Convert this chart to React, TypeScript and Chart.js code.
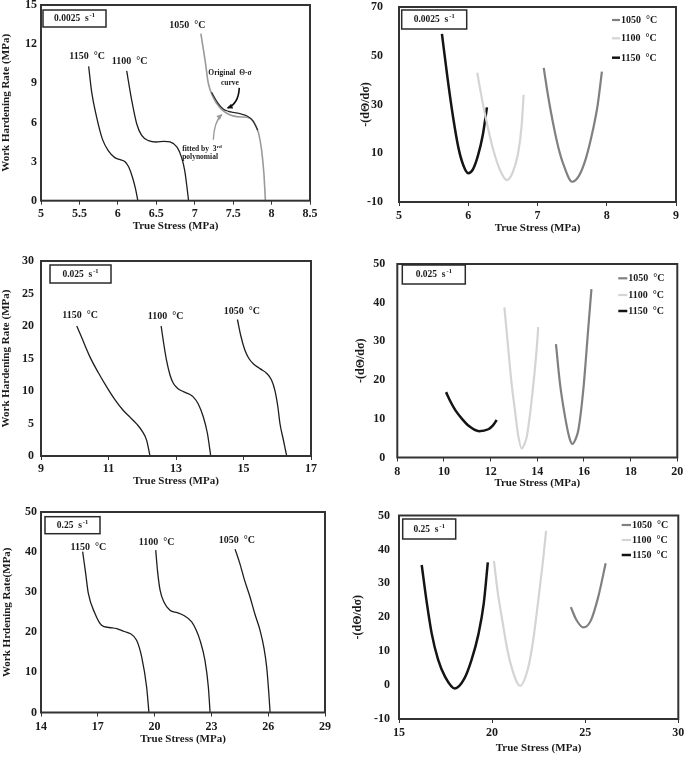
import React, { useEffect, useRef } from 'react';
import { Chart, registerables } from 'chart.js';

Chart.register(...registerables);

const SERIF = "'Liberation Serif', 'Times New Roman', Times, serif";

type Pt = [number, number];

// ---------- shared text ----------
const TEMPS = ['1050  °C', '1100  °C', '1150  °C'];
const RATES = ['0.0025', '0.025', '0.25'];
const X_TITLE = 'True Stress (MPa)';
const Y_TITLE_WHR = 'Work Hardening Rate (MPa)';
const Y_TITLE_WHR_B = 'Work Hrdening Rate(MPa)';
const Y_TITLE_DER = '-(dΘ/dσ)';

// ---------- panel A : 0.0025 s-1, work hardening rate ----------
const A_X_TICKS = [5, 5.5, 6, 6.5, 7, 7.5, 8, 8.5];
const A_Y_TICKS = [0, 3, 6, 9, 12, 15];
const A_1150: Pt[] = [[5.62, 10.3], [5.66, 8.3], [5.72, 6.5], [5.8, 4.7], [5.88, 3.8], [5.96, 3.3], [6.03, 3.15], [6.09, 3.0], [6.14, 2.6], [6.19, 1.8], [6.23, 0.9], [6.26, 0]];
const A_1100: Pt[] = [[6.115, 9.95], [6.18, 7.7], [6.245, 5.9], [6.31, 5.0], [6.4, 4.6], [6.5, 4.5], [6.6, 4.55], [6.68, 4.5], [6.77, 4.1], [6.83, 3.3], [6.87, 2.3], [6.9, 1.0], [6.92, 0]];
const A_1050_FIT: Pt[] = [[7.08, 12.8], [7.134, 10.8], [7.177, 9.0], [7.242, 7.9], [7.33, 7.1], [7.416, 6.7], [7.5, 6.5], [7.6, 6.42], [7.68, 6.4], [7.76, 6.1], [7.83, 5.2], [7.87, 3.9], [7.9, 2.1], [7.92, 0]];
const A_1050_ORIG: Pt[] = [[7.22, 8.3], [7.3, 7.5], [7.37, 7.03], [7.44, 6.85], [7.5, 6.77], [7.6, 6.65], [7.68, 6.5], [7.76, 6.1], [7.82, 5.4]];

// ---------- panel B : 0.0025 s-1, -(dΘ/dσ) ----------
const B_X_TICKS = [5, 6, 7, 8, 9];
const B_Y_TICKS = [-10, 10, 30, 50, 70];
const B_1050: Pt[] = [[7.09, 45], [7.15, 34], [7.22, 23], [7.3, 12.5], [7.38, 5], [7.5, -1.7], [7.6, 0.8], [7.7, 8], [7.8, 19.5], [7.87, 30], [7.93, 43.5]];
const B_1100: Pt[] = [[6.13, 43], [6.2, 32], [6.28, 21], [6.37, 10.5], [6.46, 3], [6.555, -1], [6.64, 2], [6.72, 10], [6.77, 21], [6.8, 34]];
const B_1150: Pt[] = [[5.62, 59], [5.7, 41], [5.78, 25], [5.86, 12], [5.93, 5], [6.0, 1.8], [6.07, 3.5], [6.14, 9], [6.21, 17.5], [6.27, 28.8]];

// ---------- panel C : 0.025 s-1, work hardening rate ----------
const C_X_TICKS = [9, 11, 13, 15, 17];
const C_Y_TICKS = [0, 5, 10, 15, 20, 25, 30];
const C_1150: Pt[] = [[10.06, 20], [10.2, 18.3], [10.45, 15.25], [10.7, 12.8], [10.95, 10.6], [11.2, 8.6], [11.44, 7.0], [11.65, 5.9], [11.84, 4.9], [12.0, 3.8], [12.13, 2.4], [12.23, 0]];
const C_1100: Pt[] = [[12.56, 20], [12.63, 17.5], [12.72, 14.7], [12.82, 12.5], [12.92, 11.2], [13.05, 10.4], [13.22, 9.9], [13.4, 9.5], [13.51, 9.1], [13.66, 8], [13.81, 6], [13.93, 3.5], [14.03, 0]];
const C_1050: Pt[] = [[14.82, 21], [14.92, 18.5], [15.04, 16.3], [15.16, 15], [15.29, 14.2], [15.5, 13.4], [15.69, 12.7], [15.83, 11.7], [15.93, 10.1], [16.02, 7.5], [16.08, 5], [16.18, 2.5], [16.28, 0]];

// ---------- panel D : 0.025 s-1, -(dΘ/dσ) ----------
const D_X_TICKS = [8, 10, 12, 14, 16, 18, 20];
const D_Y_TICKS = [0, 10, 20, 30, 40, 50];
const D_1050: Pt[] = [[14.8, 29.3], [14.97, 19.2], [15.19, 10.5], [15.38, 5], [15.5, 3.5], [15.62, 4.5], [15.76, 7.1], [15.97, 17.4], [16.19, 33.8], [16.32, 43.5]];
const D_1100: Pt[] = [[12.59, 38.8], [12.76, 27.8], [12.9, 19], [13.04, 12.3], [13.19, 5.4], [13.33, 2.3], [13.45, 3.5], [13.55, 5.4], [13.76, 14.9], [13.97, 27.8], [14.04, 33.7]];
const D_1150: Pt[] = [[10.09, 16.9], [10.3, 14.2], [10.5, 12.1], [10.8, 9.8], [11.1, 8.0], [11.5, 6.8], [11.9, 7.3], [12.1, 8.3], [12.26, 9.7]];

// ---------- panel E : 0.25 s-1, work hardening rate ----------
const E_X_TICKS = [14, 17, 20, 23, 26, 29];
const E_Y_TICKS = [0, 10, 20, 30, 40, 50];
const E_1150: Pt[] = [[16.2, 40.1], [16.35, 35], [16.5, 29.7], [16.85, 24.7], [17.2, 21.75], [17.6, 21.2], [18.0, 20.9], [18.4, 20.2], [18.7, 19.7], [19.05, 18], [19.32, 13.8], [19.58, 6.3], [19.7, 0]];
const E_1100: Pt[] = [[20.06, 40.5], [20.15, 35.5], [20.29, 30.5], [20.5, 27.5], [20.81, 25.5], [21.2, 24.9], [21.52, 24.25], [21.96, 22.6], [22.2, 20.5], [22.4, 18], [22.66, 13], [22.84, 6.3], [22.93, 0]];
const E_1050: Pt[] = [[24.25, 40.75], [24.5, 37.2], [24.75, 33], [25.04, 28.8], [25.3, 24.5], [25.57, 20.5], [25.78, 16], [25.92, 11.3], [26.03, 5], [26.1, 0]];

// ---------- panel F : 0.25 s-1, -(dΘ/dσ) ----------
const F_X_TICKS = [15, 20, 25, 30];
const F_Y_TICKS = [-10, 0, 10, 20, 30, 40, 50];
const F_1050: Pt[] = [[24.23, 23], [24.5, 19.5], [24.9, 17], [25.3, 19], [25.7, 26], [26.1, 35.9]];
const F_1100: Pt[] = [[20.1, 36.6], [20.3, 27.5], [20.52, 20], [20.8, 11], [21.05, 5.2], [21.5, -0.2], [21.94, 5.2], [22.2, 13], [22.48, 25], [22.7, 35], [22.9, 45.5]];
const F_1150: Pt[] = [[16.22, 35.4], [16.5, 24], [16.76, 15.1], [17.1, 7.5], [17.47, 2.5], [18.0, -1], [18.5, 1.8], [18.9, 7.5], [19.27, 15.1], [19.55, 24], [19.77, 36.2]];

// ---------- styles ----------
const DARK = '#1e1e1e';
const C1050 = '#808080';
const C1100 = '#d4d4d4';
const C1150 = '#141414';

type Series = { label: string; data: Pt[]; color: string; width: number };
type Label = { text: string; x: number; y: number };
type Spec = {
  canvas: [number, number, number, number];
  plot: [number, number, number, number];
  xTicks: number[];
  yTicks: number[];
  yTitle: string;
  yTitleX: number;
  yTitleSize: number;
  yTickPad: number;
  xTickGap: number;
  xTitleGap: number;
  series: Series[];
  rate: string;
  rateBox: [number, number, number, number];
  labels?: Label[];
  legend?: { x0: number; x1: number; rows: number[] };
  notes?: boolean;
};

const SPECS: Spec[] = [
  {
    canvas: [0, -20, 345, 270], plot: [41, 5, 310, 200.7],
    xTicks: A_X_TICKS, yTicks: A_Y_TICKS, yTitle: Y_TITLE_WHR, yTitleX: 6.5, yTitleSize: 11, yTickPad: 4, xTickGap: 13.5, xTitleGap: 25.5,
    series: [
      { label: '1150', data: A_1150, color: DARK, width: 1.3 },
      { label: '1100', data: A_1100, color: DARK, width: 1.3 },
      { label: '1050 original', data: A_1050_ORIG, color: '#2a2a2a', width: 1.2 },
      { label: '1050 fitted', data: A_1050_FIT, color: '#9a9a9a', width: 1.6 },
    ],
    rate: RATES[0], rateBox: [2, 5, 63, 17],
    labels: [
      { text: TEMPS[2], x: 5.6, y: 11.05 },
      { text: TEMPS[1], x: 6.154, y: 10.67 },
      { text: TEMPS[0], x: 6.904, y: 13.44 },
    ],
    notes: true,
  },
  {
    canvas: [345, -20, 360, 270], plot: [399, 7, 676, 202],
    xTicks: B_X_TICKS, yTicks: B_Y_TICKS, yTitle: Y_TITLE_DER, yTitleX: 366, yTitleSize: 12, yTickPad: 16, xTickGap: 13.5, xTitleGap: 26,
    series: [
      { label: TEMPS[0], data: B_1050, color: C1050, width: 2.2 },
      { label: TEMPS[1], data: B_1100, color: C1100, width: 2.2 },
      { label: TEMPS[2], data: B_1150, color: C1150, width: 2.5 },
    ],
    rate: RATES[0], rateBox: [2.7, 3, 65, 19],
    legend: { x0: -64, x1: -56, rows: [13, 31.3, 50.7] },
  },
  {
    canvas: [0, 230, 345, 270], plot: [41, 261, 311, 456],
    xTicks: C_X_TICKS, yTicks: C_Y_TICKS, yTitle: Y_TITLE_WHR, yTitleX: 6.5, yTitleSize: 11, yTickPad: 7, xTickGap: 13, xTitleGap: 25,
    series: [
      { label: '1150', data: C_1150, color: DARK, width: 1.3 },
      { label: '1100', data: C_1100, color: DARK, width: 1.3 },
      { label: '1050', data: C_1050, color: DARK, width: 1.3 },
    ],
    rate: RATES[1], rateBox: [9, 4, 61, 18],
    labels: [
      { text: TEMPS[2], x: 10.16, y: 21.6 },
      { text: TEMPS[1], x: 12.69, y: 21.4 },
      { text: TEMPS[0], x: 14.95, y: 22.2 },
    ],
  },
  {
    canvas: [345, 230, 360, 270], plot: [397.3, 264, 677.3, 457.5],
    xTicks: D_X_TICKS, yTicks: D_Y_TICKS, yTitle: Y_TITLE_DER, yTitleX: 361, yTitleSize: 12, yTickPad: 12, xTickGap: 14, xTitleGap: 25.5,
    series: [
      { label: TEMPS[0], data: D_1050, color: C1050, width: 2.2 },
      { label: TEMPS[1], data: D_1100, color: C1100, width: 2.2 },
      { label: TEMPS[2], data: D_1150, color: C1150, width: 2.5 },
    ],
    rate: RATES[1], rateBox: [5, 1, 63, 19],
    legend: { x0: -59, x1: -50, rows: [14.3, 31, 47] },
  },
  {
    canvas: [0, 480, 345, 290], plot: [41, 512, 325, 712.5],
    xTicks: E_X_TICKS, yTicks: E_Y_TICKS, yTitle: Y_TITLE_WHR_B, yTitleX: 7, yTitleSize: 11, yTickPad: 4, xTickGap: 14, xTitleGap: 26.5,
    series: [
      { label: '1150', data: E_1150, color: DARK, width: 1.3 },
      { label: '1100', data: E_1100, color: DARK, width: 1.3 },
      { label: '1050', data: E_1050, color: DARK, width: 1.3 },
    ],
    rate: RATES[2], rateBox: [4, 4.7, 55, 17],
    labels: [
      { text: TEMPS[2], x: 16.5, y: 41.1 },
      { text: TEMPS[1], x: 20.11, y: 42.3 },
      { text: TEMPS[0], x: 24.34, y: 42.8 },
    ],
  },
  {
    canvas: [345, 480, 360, 290], plot: [399, 515.5, 678.3, 719],
    xTicks: F_X_TICKS, yTicks: F_Y_TICKS, yTitle: Y_TITLE_DER, yTitleX: 358, yTitleSize: 12, yTickPad: 9, xTickGap: 14, xTitleGap: 29,
    series: [
      { label: TEMPS[0], data: F_1050, color: C1050, width: 2.2 },
      { label: TEMPS[1], data: F_1100, color: C1100, width: 2.2 },
      { label: TEMPS[2], data: F_1150, color: C1150, width: 2.5 },
    ],
    rate: RATES[2], rateBox: [3.7, 3.5, 53, 20],
    legend: { x0: -56.6, x1: -47.3, rows: [9.5, 24.5, 39.5] },
  },
];

function drawArrow(ctx: CanvasRenderingContext2D, p0: number[], c: number[], p1: number[], color: string, width: number) {
  ctx.beginPath();
  ctx.moveTo(p0[0], p0[1]);
  ctx.quadraticCurveTo(c[0], c[1], p1[0], p1[1]);
  ctx.strokeStyle = color;
  ctx.lineWidth = width;
  ctx.stroke();
  const ang = Math.atan2(p1[1] - c[1], p1[0] - c[0]);
  const L = 5.5;
  ctx.beginPath();
  ctx.moveTo(p1[0] + Math.cos(ang) * 1, p1[1] + Math.sin(ang) * 1);
  ctx.lineTo(p1[0] - L * Math.cos(ang - 0.5), p1[1] - L * Math.sin(ang - 0.5));
  ctx.lineTo(p1[0] - L * Math.cos(ang + 0.5), p1[1] - L * Math.sin(ang + 0.5));
  ctx.closePath();
  ctx.fillStyle = color;
  ctx.fill();
}

function decorPlugin(s: Spec) {
  return {
    id: 'decor',
    afterDatasetsDraw(chart: any) {
      const { ctx, chartArea: a, scales } = chart;
      const X = (v: number) => scales.x.getPixelForValue(v);
      const Y = (v: number) => scales.y.getPixelForValue(v);
      ctx.save();
      // frame
      ctx.strokeStyle = '#333';
      ctx.lineWidth = 2;
      ctx.strokeRect(a.left, a.top, a.right - a.left, a.bottom - a.top);

      // strain-rate box
      const [bx, by, bw, bh] = s.rateBox;
      const x0 = a.left + bx;
      const y0 = a.top + by;
      ctx.lineWidth = 1.5;
      ctx.strokeStyle = '#2a2a2a';
      ctx.strokeRect(x0, y0, bw, bh);
      const main = s.rate + '  s';
      ctx.font = `bold 9.5px ${SERIF}`;
      const mw = ctx.measureText(main).width;
      ctx.font = `bold 6.5px ${SERIF}`;
      const sw = ctx.measureText('-1').width;
      const sx = x0 + bw / 2 - (mw + sw + 1) / 2;
      const cy = y0 + bh / 2;
      ctx.fillStyle = '#1a1a1a';
      ctx.textBaseline = 'middle';
      ctx.textAlign = 'left';
      ctx.font = `bold 9.5px ${SERIF}`;
      ctx.fillText(main, sx, cy + 0.5);
      ctx.font = `bold 6.5px ${SERIF}`;
      ctx.fillText('-1', sx + mw + 1, cy - 3);

      // curve labels
      if (s.labels) {
        ctx.font = `bold 10px ${SERIF}`;
        ctx.textAlign = 'center';
        ctx.fillStyle = '#1a1a1a';
        s.labels.forEach((l) => ctx.fillText(l.text, X(l.x), Y(l.y)));
      }

      // legend
      if (s.legend) {
        const lg = s.legend;
        ctx.font = `bold 10px ${SERIF}`;
        ctx.textAlign = 'left';
        s.series.forEach((se, i) => {
          const y = a.top + lg.rows[i];
          ctx.beginPath();
          ctx.moveTo(a.right + lg.x0, y);
          ctx.lineTo(a.right + lg.x1, y);
          ctx.strokeStyle = se.color;
          ctx.lineWidth = se.width;
          ctx.stroke();
          ctx.fillStyle = '#1a1a1a';
          ctx.fillText(se.label, a.right + lg.x1 + 1, y + 0.5);
        });
      }

      // notes in panel A
      if (s.notes) {
        ctx.font = `bold 7.5px ${SERIF}`;
        ctx.textAlign = 'center';
        ctx.fillStyle = '#1a1a1a';
        ctx.fillText('Original  Θ-σ', X(7.459), Y(9.75));
        ctx.fillText('curve', X(7.459), Y(9.05));
        ctx.fillText('fitted by  3', X(7.06), Y(3.95));
        const w3 = ctx.measureText('fitted by  3').width;
        ctx.font = `bold 5px ${SERIF}`;
        ctx.textAlign = 'left';
        ctx.fillText('rd', X(7.06) + w3 / 2 + 0.3, Y(3.95) - 2.5);
        ctx.font = `bold 7.5px ${SERIF}`;
        ctx.textAlign = 'center';
        ctx.fillText('polynomial', X(7.07), Y(3.34));
        drawArrow(ctx, [X(7.58), Y(8.65)], [X(7.57), Y(7.44)], [X(7.429), Y(7.11)], '#111', 1.6);
        drawArrow(ctx, [X(7.242), Y(4.67)], [X(7.251), Y(6.05)], [X(7.351), Y(6.59)], '#9a9a9a', 1.4);
      }
      ctx.restore();
    },
  };
}

function buildChart(canvas: HTMLCanvasElement, s: Spec) {
  const [cl, ct, cw, ch] = s.canvas;
  const [pl, pt, pr, pb] = s.plot;
  const TITLE_SIZE = 11;
  const TICK_SIZE = 12;
  const titleLH = TITLE_SIZE * 1.2;
  const yTitleLH = s.yTitleSize * 1.2;
  const tickLH = TICK_SIZE * 1.2;
  const TICK_LEN = 4;
  const padLeft = Math.max(0, s.yTitleX - cl - yTitleLH / 2);
  const yWidth = pl - cl - padLeft;
  const xHeight = s.xTitleGap + titleLH / 2;
  const padTop = pt - ct;
  const padRight = cl + cw - pr;
  const padBottom = ct + ch - pb - xHeight;
  const xTickPad = s.xTickGap - TICK_LEN - tickLH / 2;
  const tickFont = { family: SERIF, size: TICK_SIZE, weight: 'bold' as const };
  const titleFont = { family: SERIF, size: TITLE_SIZE, weight: 'bold' as const };
  const yTitleFont = { family: SERIF, size: s.yTitleSize, weight: 'bold' as const };

  return new Chart(canvas, {
    type: 'line',
    data: {
      datasets: s.series.map((se) => ({
        label: se.label,
        data: se.data.map(([x, y]) => ({ x, y })),
        borderColor: se.color,
        backgroundColor: se.color,
        borderWidth: se.width,
        pointRadius: 0,
        fill: false,
        cubicInterpolationMode: 'monotone' as const,
      })),
    },
    options: {
      responsive: false,
      animation: false,
      events: [],
      layout: { padding: { left: padLeft, top: padTop, right: padRight, bottom: padBottom } },
      plugins: { legend: { display: false }, tooltip: { enabled: false } },
      scales: {
        x: {
          type: 'linear',
          position: 'bottom',
          min: s.xTicks[0],
          max: s.xTicks[s.xTicks.length - 1],
          afterBuildTicks: (sc: any) => { sc.ticks = s.xTicks.map((v) => ({ value: v })); },
          afterFit: (sc: any) => { sc.height = xHeight; },
          ticks: {
            autoSkip: false, maxRotation: 0, minRotation: 0, padding: xTickPad,
            color: '#1a1a1a', font: tickFont, callback: (v: any) => String(v),
          },
          grid: { display: true, drawOnChartArea: false, drawTicks: true, tickLength: TICK_LEN, color: '#333' },
          border: { display: false },
          title: { display: true, text: X_TITLE, color: '#1a1a1a', font: titleFont, padding: 0 },
        },
        y: {
          type: 'linear',
          position: 'left',
          min: s.yTicks[0],
          max: s.yTicks[s.yTicks.length - 1],
          afterBuildTicks: (sc: any) => { sc.ticks = s.yTicks.map((v) => ({ value: v })); },
          afterFit: (sc: any) => { sc.width = yWidth; },
          ticks: { autoSkip: false, padding: s.yTickPad, color: '#1a1a1a', font: tickFont, callback: (v: any) => String(v) },
          grid: { display: false, drawTicks: false, tickLength: 0 },
          border: { display: false },
          title: { display: true, text: s.yTitle, color: '#1a1a1a', font: yTitleFont, padding: 0 },
        },
      },
    } as any,
    plugins: [decorPlugin(s)],
  });
}

export default function App() {
  const refs = useRef<(HTMLCanvasElement | null)[]>([]);
  useEffect(() => {
    const charts = SPECS.map((s, i) => buildChart(refs.current[i] as HTMLCanvasElement, s));
    return () => charts.forEach((c) => c.destroy());
  }, []);
  return (
    <div style={{ position: 'absolute', left: 0, top: 0, width: 685, height: 758, overflow: 'hidden', background: '#fff' }}>
      {SPECS.map((s, i) => (
        <canvas
          key={i}
          ref={(el) => { refs.current[i] = el; }}
          width={s.canvas[2]}
          height={s.canvas[3]}
          style={{ position: 'absolute', left: s.canvas[0], top: s.canvas[1], width: s.canvas[2], height: s.canvas[3] }}
        />
      ))}
    </div>
  );
}
